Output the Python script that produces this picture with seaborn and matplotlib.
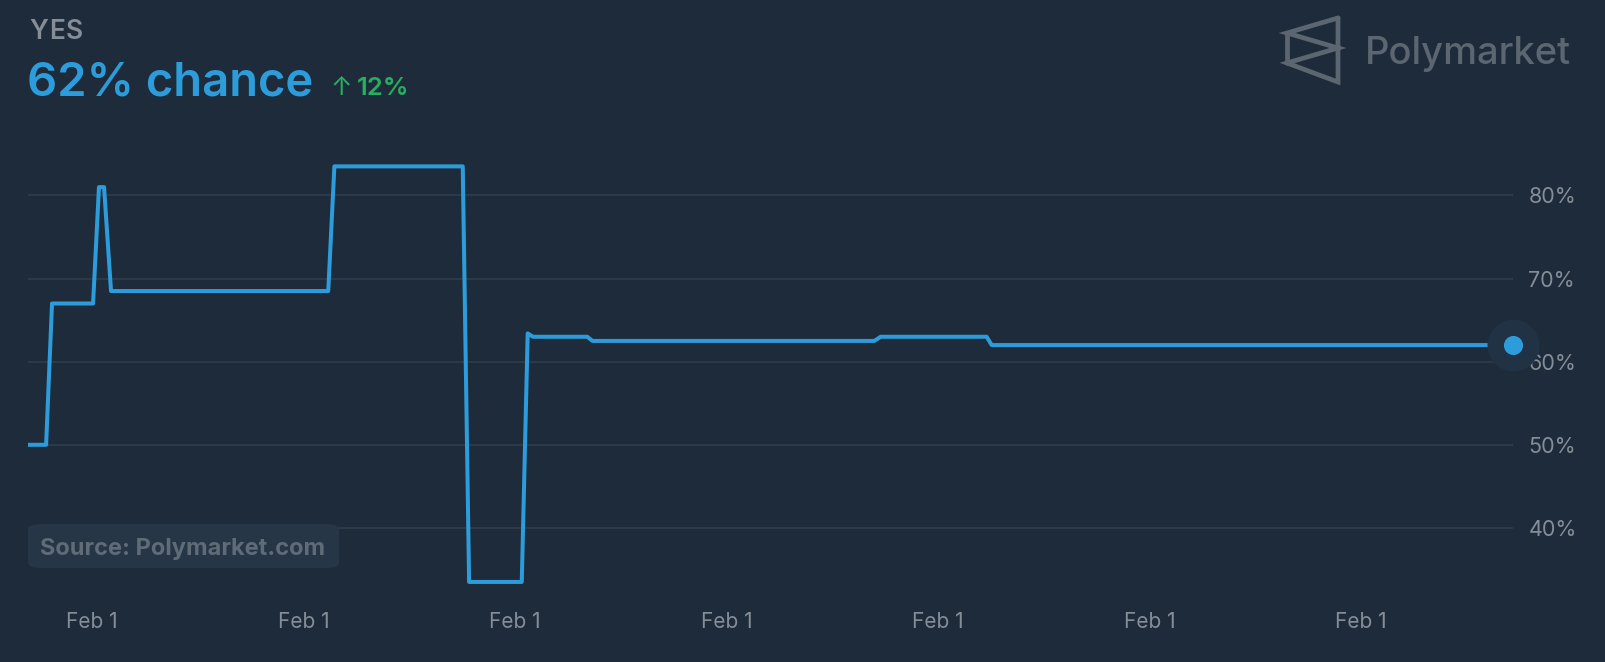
import matplotlib
matplotlib.use('Agg')
import matplotlib.pyplot as plt
from matplotlib.lines import Line2D
from matplotlib.patches import FancyBboxPatch
import seaborn as sns
import pandas as pd

# Price history (x in tick units, each tick labelled "Feb 1")
t = [-0.303, -0.217, -0.189, 0.005, 0.033, 0.057, 0.090, 1.117, 1.146, 1.753,
     1.783, 2.032, 2.060, 2.085, 2.342, 2.366, 3.699, 3.729, 4.230, 4.254, 6.719]
chance = [50, 50, 67, 67, 81, 81, 68.5, 68.5, 83.5, 83.5,
          33.5, 33.5, 63.4, 63, 63, 62.5, 62.5, 63, 63, 62, 62]
x_ticks = [0, 1, 2, 3, 4, 5, 6]
x_labels = ['Feb 1'] * 7
y_ticks = [40, 50, 60, 70, 80]
y_labels = ['40%', '50%', '60%', '70%', '80%']

bg = '#1d2b3a'
blue = '#2d9cdb'
grid_c = '#2c3b4a'
muted = '#858e97'

sns.set_style('dark')
plt.rcParams['font.family'] = ['Inter', 'DejaVu Sans']

W, H = 1606, 662
fig = plt.figure(figsize=(W / 100, H / 100), dpi=100, facecolor=bg)

# axes placed in pixel terms
left, right, top, bottom = 28, 1513, 150, 590
ax = fig.add_axes([left / W, 1 - bottom / H, (right - left) / W, (bottom - top) / H])
ax.set_facecolor(bg)

df = pd.DataFrame({'t': t, 'chance': chance})
sns.lineplot(data=df, x='t', y='chance', ax=ax, color=blue, linewidth=2.9)

# end marker with soft halo
ax.scatter([t[-1]], [chance[-1]], s=1400, color='#213244', zorder=3, clip_on=False, linewidths=0)
ax.scatter([t[-1]], [chance[-1]], s=190, color=blue, zorder=4, clip_on=False, linewidths=0)

ax.set_xlim(-0.3026, 6.7187)
ax.set_ylim(32.53, 85.47)
ax.set_xticks(x_ticks)
ax.set_xticklabels(x_labels)
ax.set_yticks(y_ticks)
ax.set_yticklabels(y_labels)
ax.yaxis.tick_right()
ax.tick_params(axis='y', length=0, pad=11, labelsize=15.5, labelcolor=muted)
ax.tick_params(axis='x', length=0, pad=16, labelsize=15, labelcolor=muted)
ax.set_xlabel('')
ax.set_ylabel('')
ax.grid(False)
ax.yaxis.grid(True, color=grid_c, linewidth=1.4)
ax.set_axisbelow(True)
for s in ax.spines.values():
    s.set_visible(False)

# header ("YES" is letter-spaced)
for ch, xp in zip('YES', [29, 49, 66]):
    fig.text(xp / W, 1 - 39 / H, ch, fontsize=19, color=muted, fontweight='semibold', va='baseline')
fig.text(27 / W, 1 - 95 / H, '62% chance', fontsize=34, color=blue, fontweight='semibold', va='baseline')
fig.text(330 / W, 1 - 95 / H, '↑', fontsize=18.5, color='#27ae60', va='baseline')
fig.text(357 / W, 1 - 95 / H, '12%', fontsize=18.5, color='#27ae60', fontweight='semibold', va='baseline')

# logo
logo_c = '#5b6670'
px = lambda x, y: (x / W, 1 - y / H)
pts = [px(1338, 18), px(1287, 33), px(1338, 48), px(1287, 63), px(1338, 82)]
xs, ys = zip(*(pts + [px(1338, 18)]))
fig.add_artist(Line2D(xs, ys, color=logo_c, linewidth=3.4, solid_joinstyle='miter'))
xs2, ys2 = zip(px(1287, 33), px(1287, 63))
fig.add_artist(Line2D(xs2, ys2, color=logo_c, linewidth=3.4))
fig.text(1365 / W, 1 - 64 / H, 'Polymarket', fontsize=27.5, color=logo_c, fontweight='medium', va='baseline')

# source badge
box = FancyBboxPatch((28 / W, 1 - 568 / H), (339 - 28) / W, (568 - 524) / H,
                     boxstyle='round,pad=0,rounding_size=0.008', transform=fig.transFigure,
                     facecolor='#263646', edgecolor='none', zorder=5)
fig.add_artist(box)
fig.text(40 / W, 1 - 555 / H, 'Source: Polymarket.com', fontsize=17, color='#5f6b77',
         fontweight='bold', va='baseline', zorder=6)

fig.savefig('out.png', dpi=100, facecolor=bg)
